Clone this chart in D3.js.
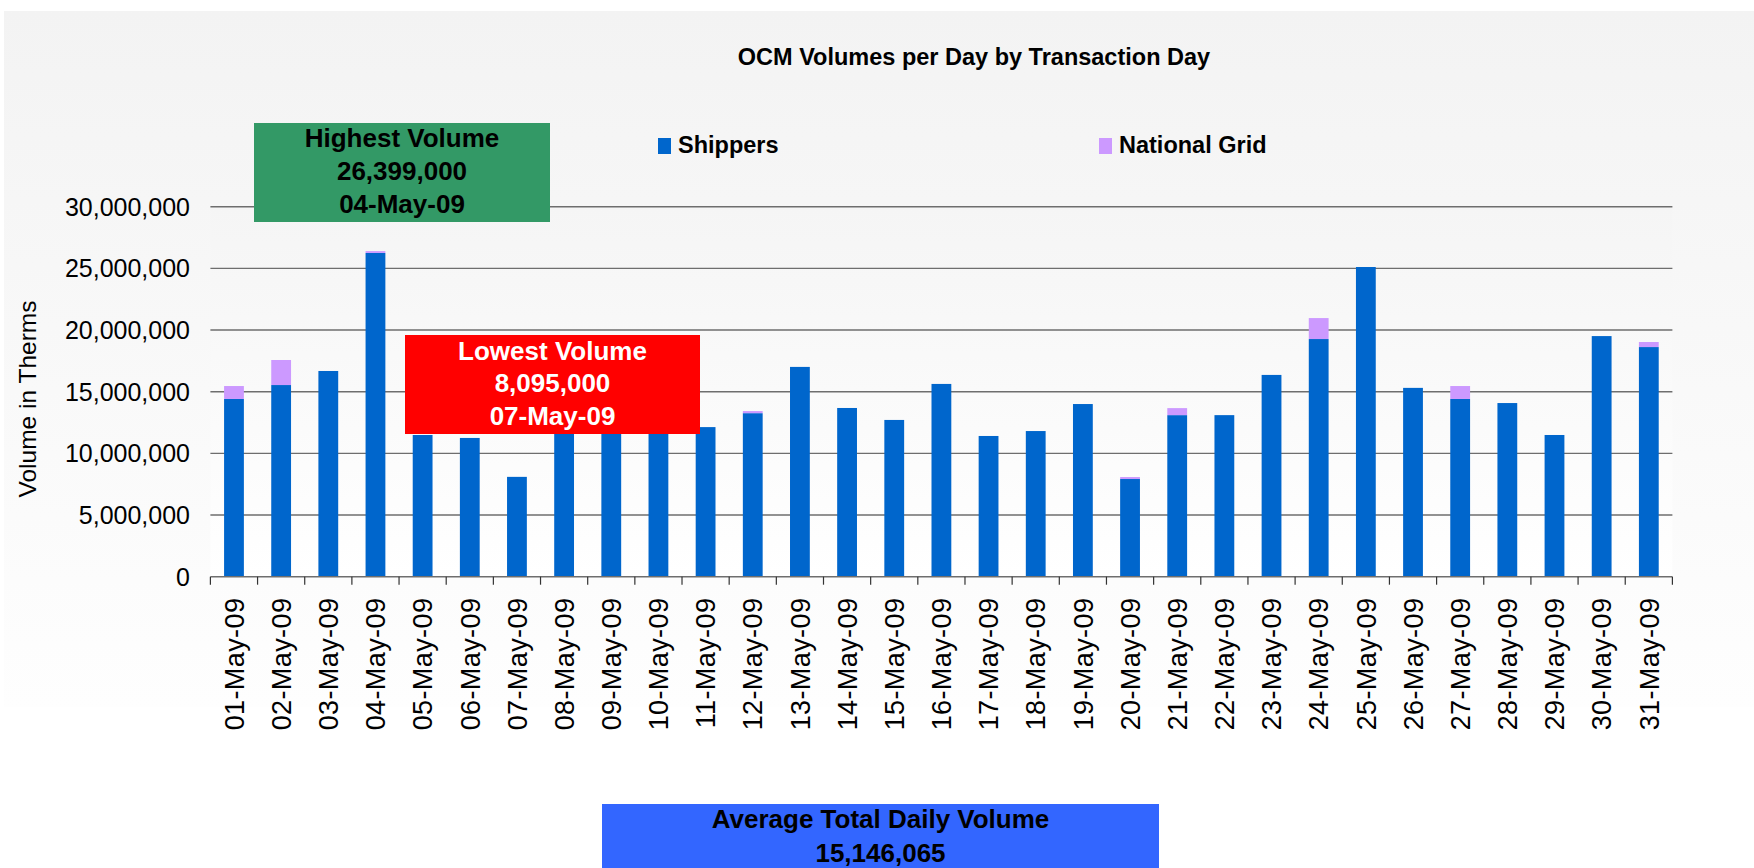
<!DOCTYPE html>
<html>
<head>
<meta charset="utf-8">
<script src="https://cdn.jsdelivr.net/npm/d3@7"></script>
<style>
  html, body { margin: 0; padding: 0; background: #ffffff; }
  svg { display: block; font-family: "Liberation Sans", Arial, sans-serif; }
</style>
</head>
<body>
<svg id="chart" width="1754" height="868"></svg>
<script>
// ---------------- DATA ----------------
const days = ["01-May-09","02-May-09","03-May-09","04-May-09","05-May-09","06-May-09","07-May-09",
  "08-May-09","09-May-09","10-May-09","11-May-09","12-May-09","13-May-09","14-May-09","15-May-09",
  "16-May-09","17-May-09","18-May-09","19-May-09","20-May-09","21-May-09","22-May-09","23-May-09",
  "24-May-09","25-May-09","26-May-09","27-May-09","28-May-09","29-May-09","30-May-09","31-May-09"];

const shippers = [14410000, 15540000, 16680000, 26249000, 11490000, 11250000, 8095000,
  16100000, 16500000, 16000000, 12130000, 13260000, 17010000, 13680000, 12710000,
  15630000, 11410000, 11810000, 14000000, 7920000, 13100000, 13100000, 16360000,
  19270000, 25110000, 15310000, 14410000, 14080000, 11490000, 19510000, 18620000];

const nationalGrid = [1050000, 2030000, 0, 150000, 0, 0, 0,
  0, 0, 0, 0, 170000, 0, 0, 0,
  0, 0, 0, 0, 160000, 570000, 0, 0,
  1700000, 0, 0, 1050000, 0, 0, 0, 410000];

const seriesNames = ["Shippers", "National Grid"];
const seriesColors = ["#0066cc", "#cc99ff"];
const yTicks = [0, 5000000, 10000000, 15000000, 20000000, 25000000, 30000000];

const titleText = "OCM Volumes per Day by Transaction Day";
const yTitle = "Volume in Therms";
const highestLines = ["Highest Volume", "26,399,000", "04-May-09"];
const lowestLines = ["Lowest Volume", "8,095,000", "07-May-09"];
const averageLines = ["Average Total Daily Volume", "15,146,065"];

// ---------------- LAYOUT ----------------
const svg = d3.select("#chart");
const plot = { left: 210.4, right: 1672.4, top: 206.7, bottom: 576.7 };

const defs = svg.append("defs");
const g1 = defs.append("linearGradient").attr("id", "chartBg").attr("x1", 0).attr("y1", 0).attr("x2", 0).attr("y2", 1);
g1.append("stop").attr("offset", "0%").attr("stop-color", "#f3f3f3");
g1.append("stop").attr("offset", "100%").attr("stop-color", "#fefefe");
const g2 = defs.append("linearGradient").attr("id", "plotBg").attr("x1", 0).attr("y1", 0).attr("x2", 0).attr("y2", 1);
g2.append("stop").attr("offset", "0%").attr("stop-color", "#f5f5f5");
g2.append("stop").attr("offset", "100%").attr("stop-color", "#ffffff");

svg.append("rect").attr("x", 4).attr("y", 11).attr("width", 1750).attr("height", 696).attr("fill", "url(#chartBg)");
svg.append("rect").attr("x", plot.left).attr("y", plot.top)
  .attr("width", plot.right - plot.left).attr("height", plot.bottom - plot.top).attr("fill", "url(#plotBg)");

// scales
const x = d3.scaleBand().domain(days).range([plot.left, plot.right]).paddingInner(0.58).paddingOuter(0.29);
const y = d3.scaleLinear().domain([0, 30000000]).range([plot.bottom, plot.top]);

// gridlines
svg.append("g").selectAll("line").data(yTicks.filter(d => d > 0)).join("line")
  .attr("x1", plot.left).attr("x2", plot.right)
  .attr("y1", d => y(d)).attr("y2", d => y(d))
  .attr("stroke", "#6e6e6e").attr("stroke-width", 1.4);

// y tick labels
svg.append("g").selectAll("text").data(yTicks).join("text")
  .attr("x", 190).attr("y", d => y(d)).attr("dy", "0.36em")
  .attr("text-anchor", "end").attr("font-size", 25).attr("fill", "#000")
  .text(d => d3.format(",")(d));

// y title
svg.append("text")
  .attr("transform", `translate(36,399) rotate(-90)`)
  .attr("text-anchor", "middle").attr("font-size", 24.5).attr("fill", "#000")
  .text(yTitle);

// stacked bars
const rows = days.map((d, i) => ({ day: d, Shippers: shippers[i], "National Grid": nationalGrid[i] }));
const stacked = d3.stack().keys(seriesNames)(rows);
svg.append("g").selectAll("g").data(stacked).join("g")
  .attr("fill", (d, i) => seriesColors[i])
  .selectAll("rect").data(d => d).join("rect")
  .attr("x", d => x(d.data.day))
  .attr("width", x.bandwidth())
  .attr("y", d => y(d[1]))
  .attr("height", d => Math.max(0, y(d[0]) - y(d[1])));

// x axis line and category boundary ticks
const step = x.step();
const x0 = x(days[0]) - step * x.paddingOuter();
const boundaries = d3.range(days.length + 1).map(i => x0 + i * step);
const xAxisG = svg.append("g");
xAxisG.append("line").attr("x1", plot.left).attr("x2", plot.right)
  .attr("y1", plot.bottom).attr("y2", plot.bottom).attr("stroke", "#6e6e6e").attr("stroke-width", 1.4);
xAxisG.selectAll("line.tick").data(boundaries).join("line").attr("class", "tick")
  .attr("x1", d => d).attr("x2", d => d)
  .attr("y1", plot.bottom).attr("y2", plot.bottom + 8)
  .attr("stroke", "#333").attr("stroke-width", 1.2);

// x labels
xAxisG.selectAll("text").data(days).join("text")
  .attr("transform", d => `translate(${x(d) + x.bandwidth() / 2},${plot.bottom + 21}) rotate(-90)`)
  .attr("text-anchor", "end").attr("dy", "0.36em")
  .attr("font-size", 27).attr("letter-spacing", 0.4).attr("fill", "#000")
  .text(d => d);

// title
svg.append("text").attr("x", 974).attr("y", 65).attr("text-anchor", "middle")
  .attr("font-size", 23.5).attr("font-weight", "bold").attr("fill", "#000").text(titleText);

// legend
const legendPos = [{ sx: 658, tx: 678 }, { sx: 1099, tx: 1119 }];
const lg = svg.append("g").selectAll("g").data(seriesNames).join("g");
lg.append("rect").attr("x", (d, i) => legendPos[i].sx).attr("y", 138).attr("width", 13).attr("height", 16)
  .attr("fill", (d, i) => seriesColors[i]);
lg.append("text").attr("x", (d, i) => legendPos[i].tx).attr("y", 153)
  .attr("font-size", 23.5).attr("font-weight", "bold").attr("fill", "#000").text(d => d);

// annotation boxes
function box(bx, by, bw, bh, fill, color, lines, baselines, cx) {
  const g = svg.append("g");
  g.append("rect").attr("x", bx).attr("y", by).attr("width", bw).attr("height", bh).attr("fill", fill);
  g.selectAll("text").data(lines).join("text")
    .attr("x", cx).attr("y", (d, i) => baselines[i]).attr("text-anchor", "middle")
    .attr("font-size", 26).attr("font-weight", "bold").attr("fill", color).text(d => d);
}
box(254, 123, 296, 99, "#339966", "#000000", highestLines, [147, 180, 213], 402);
box(405, 335, 295, 99, "#ff0000", "#ffffff", lowestLines, [360, 392, 425], 552.5);
box(602, 804, 557, 70, "#3366ff", "#000000", averageLines, [828, 862], 880.5);
</script>
</body>
</html>
